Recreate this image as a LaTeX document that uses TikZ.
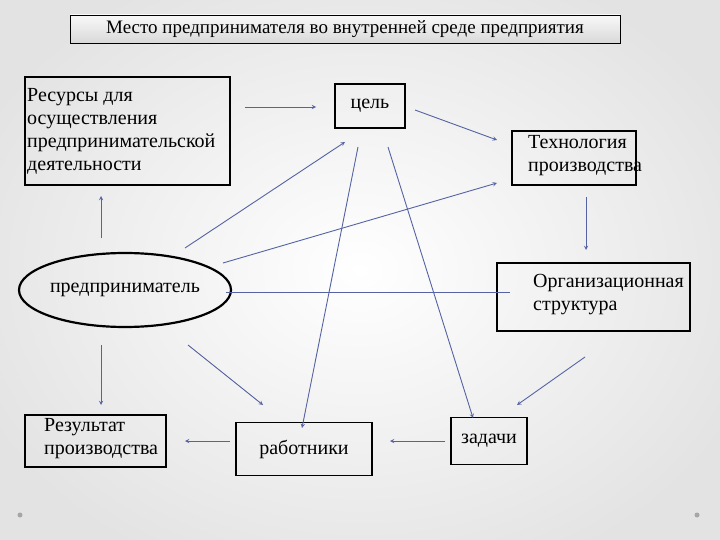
\documentclass[tikz,border=0pt]{standalone}
\usepackage{fontspec}
\setmainfont{Liberation Serif}
\usetikzlibrary{shapes.geometric}
\begin{document}
\begin{tikzpicture}[x=1pt,y=-1pt,
 box/.style={draw,line width=1.6pt,inner sep=3pt,font=\fontsize{20}{23}\selectfont},
 arr/.style={draw=arrowc,line width=0.9pt,-stealth},
 lab/.style={font=\fontsize{20}{23}\selectfont,align=left,anchor=north west,inner sep=0pt}]
\definecolor{arrowc}{HTML}{5563A3}
\useasboundingbox (0,0) rectangle (720,540);
\shade[inner color=white,outer color=gray!22] (-60,-60) rectangle (780,600);
\node[draw,line width=0.8pt,top color=gray!5,bottom color=gray!30,minimum width=550pt,minimum height=28pt,font=\fontsize{19}{21}\selectfont] (title) at (345,29) {Место предпринимателя во внутренней среде предприятия};
\draw[line width=1.6pt] (25,77) rectangle (230,185);
\node[lab] (res) at (27,88) {Ресурсы для\\осуществления\\предпринимательской\\деятельности};
\node[box,minimum width=70pt,minimum height=44pt] (goal) at (370,106) {цель};
\draw[line width=1.6pt] (512,131) rectangle (636,185);
\node[lab] (tech) at (528,135) {Технология\\производства};
\draw[line width=1.6pt] (497,263) rectangle (690,331);
\node[lab] (org) at (533,274) {Организационная\\структура};
\node[draw,ellipse,line width=2.2pt,minimum width=196pt,minimum height=74pt,inner sep=0pt,font=\fontsize{20}{23}\selectfont] (ent) at (125,290) {предприниматель};
\draw[line width=1.6pt] (25,415) rectangle (166,467);
\node[lab] (resu) at (44,418) {Результат\\производства};
\node[box,minimum width=136pt,minimum height=53pt] (work) at (304,449) {работники};
\node[box,minimum width=76pt,minimum height=47pt] (task) at (489,441) {задачи};
\fill[gray!70] (20,515) circle (2.5) (697,515) circle (2.5);
\coordinate (a1) at (245,107); \coordinate (b1) at (316,107);
\draw[arr] (a1) -- (b1);
\coordinate (a2) at (415,110); \coordinate (b2) at (497,140);
\draw[arr] (a2) -- (b2);
\coordinate (a3) at (185,248); \coordinate (b3) at (345,142);
\draw[arr] (a3) -- (b3);
\coordinate (a4) at (223,263); \coordinate (b4) at (497,183);
\draw[arr] (a4) -- (b4);
\coordinate (a5) at (358,147); \coordinate (b5) at (302,428);
\draw[arr] (a5) -- (b5);
\coordinate (a6) at (388,147); \coordinate (b6) at (473,418);
\draw[arr] (a6) -- (b6);
\coordinate (a7) at (101,238); \coordinate (b7) at (101,196);
\draw[arr] (a7) -- (b7);
\coordinate (a8) at (586,197); \coordinate (b8) at (586,250);
\draw[arr] (a8) -- (b8);
\coordinate (a9) at (226,292); \coordinate (b9) at (510,292);
\draw[draw=arrowc,line width=0.9pt] (a9) -- (b9);
\coordinate (a10) at (101,345); \coordinate (b10) at (101,405);
\draw[arr] (a10) -- (b10);
\coordinate (a11) at (188,345); \coordinate (b11) at (263,405);
\draw[arr] (a11) -- (b11);
\coordinate (a12) at (585,357); \coordinate (b12) at (517,405);
\draw[arr] (a12) -- (b12);
\coordinate (a13) at (445,441); \coordinate (b13) at (390,441);
\draw[arr] (a13) -- (b13);
\coordinate (a14) at (230,441); \coordinate (b14) at (185,441);
\draw[arr] (a14) -- (b14);
\end{tikzpicture}
\end{document}
